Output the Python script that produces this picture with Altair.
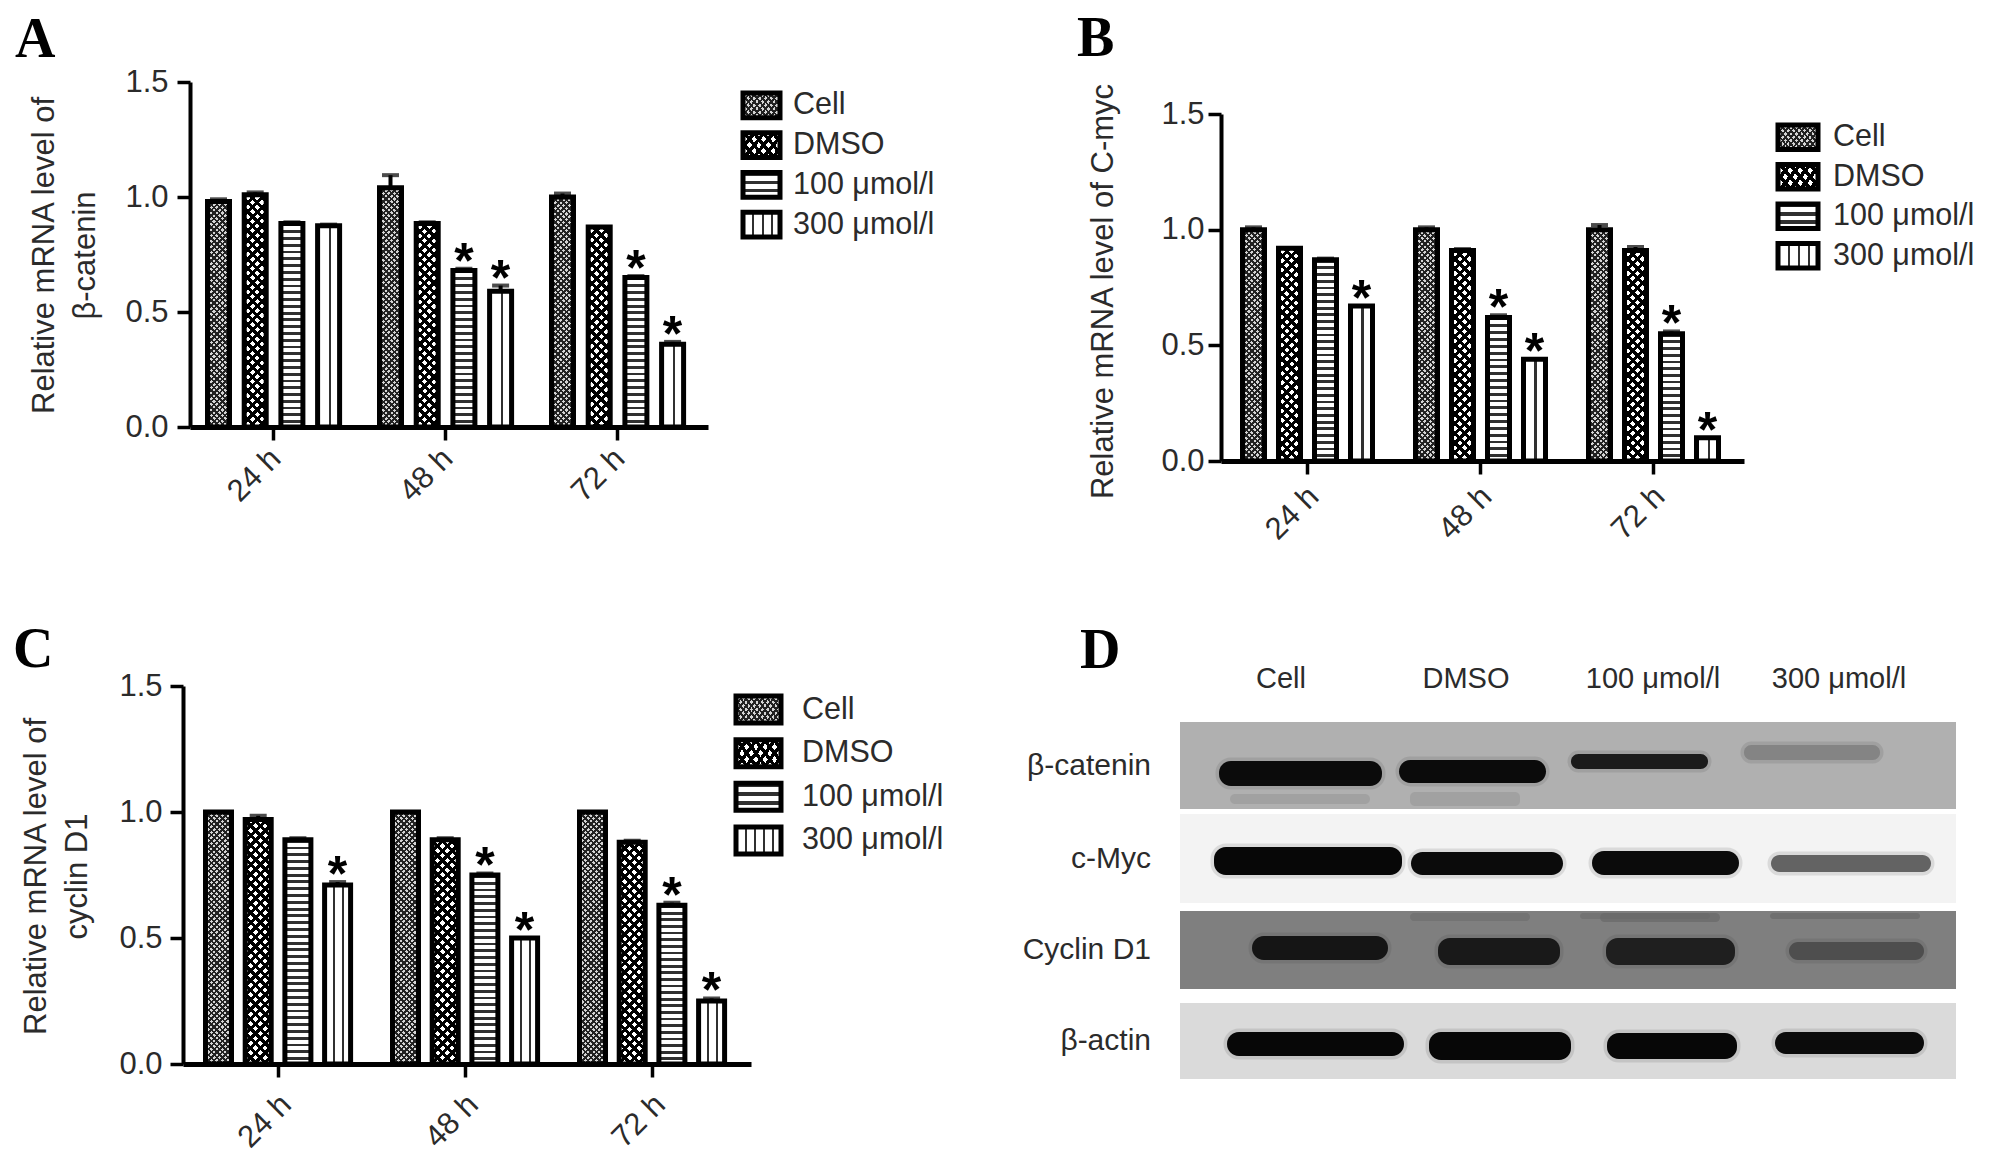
import altair as alt

W, H = 1973, 1144
OFF = 8
FONT = "Liberation Sans"
INK = "#2b2b2b"

series = ["Cell", "DMSO", "100 μmol/l", "300 μmol/l"]
times = ["24 h", "48 h", "72 h"]

a_values = [0.98, 1.01, 0.885, 0.875, 1.04, 0.885, 0.68, 0.59, 1.0, 0.87, 0.65, 0.36]
a_errors = [0.01, 0.01, 0.005, 0.005, 0.055, 0.005, 0.008, 0.025, 0.015, 0.0, 0.006, 0.01]
a_stars = [0, 0, 0, 0, 0, 0, 1, 1, 0, 0, 1, 1]

b_values = [1.0, 0.92, 0.87, 0.67, 1.0, 0.91, 0.62, 0.44, 1.0, 0.91, 0.55, 0.10]
b_errors = [0.01, 0.0, 0.005, 0.0, 0.01, 0.006, 0.01, 0.0, 0.02, 0.015, 0.01, 0.0]
b_stars = [0, 0, 0, 1, 0, 0, 1, 1, 0, 0, 1, 1]

c_values = [1.0, 0.97, 0.89, 0.71, 1.0, 0.89, 0.75, 0.50, 1.0, 0.88, 0.63, 0.25]
c_errors = [0.0, 0.015, 0.006, 0.012, 0.0, 0.006, 0.006, 0.0, 0.0, 0.006, 0.01, 0.01]
c_stars = [0, 0, 0, 1, 0, 0, 1, 1, 0, 0, 1, 1]

# western blot (panel D): gel coordinates in pixels from the gel's top-left corner
gel_rows = ["β-catenin", "c-Myc", "Cyclin D1", "β-actin"]
gel_lanes = ["Cell", "DMSO", "100 μmol/l", "300 μmol/l"]
gel_top = [0, 92, 189, 281]
gel_bottom = [87, 181, 267, 357]
gel_left = [0, 0, 0, 0]
gel_right = [776, 776, 776, 776]
gel_shade = [0.72, 0.96, 0.53, 0.87]
band_x0 = [39, 219, 391, 564, 34, 231, 412, 591, 72, 258, 426, 609, 47, 249, 427, 595]
band_x1 = [202, 366, 528, 700, 222, 383, 559, 751, 208, 380, 555, 744, 224, 391, 557, 744]
band_y0 = [39, 38, 32, 23, 125, 130, 129, 133, 214, 216, 216, 220, 310, 310, 311, 310]
band_y1 = [64, 61, 47, 38, 153, 153, 153, 150, 238, 243, 243, 238, 334, 338, 337, 332]
band_shade = [0.03, 0.03, 0.1, 0.55, 0.02, 0.03, 0.03, 0.42, 0.07, 0.09, 0.12, 0.33, 0.02, 0.02, 0.02, 0.03]
faint_x0 = [50, 230, 400, 230, 420, 590]
faint_x1 = [190, 340, 530, 350, 540, 740]
faint_y0 = [72, 70, 191, 191, 191, 191]
faint_y1 = [82, 84, 197, 199, 200, 197]
faint_shade = [0.64, 0.64, 0.46, 0.46, 0.44, 0.44]


def stops(n, duty, on, off):
    out = []
    for k in range(n):
        s = k / n
        m = (k + duty) / n
        e = (k + 1) / n
        out += [{"offset": s, "color": on}, {"offset": m, "color": on},
                {"offset": m, "color": off}, {"offset": e, "color": off}]
    return out


def stripes_h(h, period, duty, on, off):
    return {"gradient": "linear", "x1": 0, "y1": 0, "x2": 0, "y2": 1,
            "stops": stops(max(1, round(h / period)), duty, on, off)}


def stripes_v(w, period, duty, on, off):
    return {"gradient": "linear", "x1": 0, "y1": 0, "x2": 1, "y2": 0,
            "stops": stops(max(1, round(w / period)), duty, on, off)}


def diagonal(w, h, period, duty, on, off, flip):
    k = (w + h) / (w * w + h * h)
    n = max(1, round((w + h) / period))
    if flip:
        return {"gradient": "linear", "x1": 0, "y1": 1, "x2": w * k, "y2": 1 - h * k,
                "stops": stops(n, duty, on, off)}
    return {"gradient": "linear", "x1": 0, "y1": 0, "x2": w * k, "y2": h * k,
            "stops": stops(n, duty, on, off)}


def patterns(name, w, h):
    clear = "rgba(255,255,255,0)"
    if name == series[0]:
        return (diagonal(w, h, 5.6, 0.42, "#222222", "#d4d4d4", False),
                diagonal(w, h, 5.6, 0.42, "#222222", clear, True))
    if name == series[1]:
        return (diagonal(w, h, 9.5, 0.45, "#000000", "#ffffff", False),
                diagonal(w, h, 9.5, 0.45, "#000000", clear, True))
    if name == series[2]:
        return (stripes_h(h, 6.7, 0.42, "#303030", "#ffffff"),
                stripes_h(h, 6.7, 0.42, clear, clear))
    return (stripes_v(w, 9.0, 0.22, "#303030", "#ffffff"),
            stripes_v(w, 9.0, 0.22, clear, clear))


def panel(values, errors, stars, left, right, first, period, barw, step, y0, y1,
          title, title_x, title_y, line_h, lab_pad, lab_off, y_pad):
    sw = 5
    rw = barw - sw
    band = rw + 3 * period
    total = right - left - 2 * step - band
    start = first + sw / 2
    xs = alt.Scale(type="band", domain=times, range=[left - OFF, right - OFF],
                   paddingInner=1 - band / step, paddingOuter=total / (2 * step),
                   align=(start - left) / total)
    offs = alt.Scale(type="band", domain=series, range=[0, band],
                     paddingInner=1 - rw / period, paddingOuter=0)
    ys = alt.Scale(domain=[0, 1.5], range=[y0 - OFF, y1 - OFF], nice=False, zero=True)

    rows = []
    for i, v in enumerate(values):
        name = series[i % 4]
        f0, f1 = patterns(name, rw, v / 1.5 * (y0 - y1))
        rows.append({"time": times[i // 4], "series": name, "value": v,
                     "top": v + errors[i], "err": errors[i], "star": stars[i],
                     "f0": f0, "f1": f1})
    data = alt.Data(values=rows)

    x_axis = alt.Axis(orient="bottom", offset=-(H + OFF - y0), domainWidth=5, domainColor="black",
                      tickWidth=3.5, tickColor="black", tickSize=13, labelAngle=-45,
                      labelAlign="right", labelBaseline="top", labelPadding=lab_pad, labelOffset=lab_off,
                      labelFont=FONT, labelFontSize=31, labelColor=INK, title=None,
                      labelOverlap=False, labelBound=False, labelFlush=False, grid=False)
    y_axis = alt.Axis(orient="left", offset=-(left - OFF), domainWidth=4, domainColor="black",
                      tickWidth=3.5, tickColor="black", tickSize=13, values=[0, 0.5, 1.0, 1.5],
                      format=".1f", labelFont=FONT, labelFontSize=31, labelColor=INK, labelPadding=y_pad,
                      title=title, titleFont=FONT, titleFontSize=31, titleFontWeight="normal",
                      titleColor=INK, titleAngle=-90, titleAlign="center", titleBaseline="middle",
                      titleX=title_x, titleY=title_y, titleLineHeight=line_h, labelOverlap=False,
                      labelBound=False, labelFlush=False, grid=False)

    X = alt.X("time:N", scale=xs, axis=x_axis, sort=times)
    X2 = alt.X("time:N", scale=xs, axis=None, sort=times)
    XO = alt.XOffset("series:N", scale=offs, sort=series)
    Y = alt.Y("value:Q", scale=ys, axis=y_axis)
    Y2 = alt.Y("value:Q", scale=ys, axis=None)
    base = alt.Chart(data)
    err = base.transform_filter("datum.err > 0")
    star = base.transform_filter("datum.star == 1")
    return [
        base.mark_bar(strokeWidth=0).encode(x=X, xOffset=XO, y=Y, fill=alt.Fill("f0:N", scale=None, legend=None)),
        base.mark_bar(stroke="black", strokeWidth=sw).encode(x=X2, xOffset=XO, y=Y2, fill=alt.Fill("f1:N", scale=None, legend=None)),
        err.mark_rule(color="black", strokeWidth=4).encode(
            x=X2, xOffset=XO, y=Y2, y2=alt.Y2("top:Q")),
        err.mark_tick(color="black", thickness=4, size=17, orient="horizontal").encode(
            x=X2, xOffset=XO, y=alt.Y("top:Q", scale=ys, axis=None)),
        star.mark_text(text="*", font=FONT, fontWeight="bold", fontSize=50, color="black",
                       baseline="alphabetic", dy=9).encode(
            x=X2, xOffset=XO, y=alt.Y("top:Q", scale=ys, axis=None)),
    ]


def legend(x0, x1, y_top, y_bot, text_x, size):
    w, h = x1 - x0, 20
    rows = []
    for name in series:
        f0, f1 = patterns(name, w, h)
        rows.append({"series": name, "a": 0, "b": 1, "f0": f0, "f1": f1})
    data = alt.Data(values=rows)
    ys = alt.Scale(type="band", domain=series, range=[y_top - OFF, y_bot - OFF], paddingInner=0.38, paddingOuter=0)
    xs = alt.Scale(domain=[0, 1], range=[x0 - OFF, x1 - OFF], nice=False, zero=False)
    Y = alt.Y("series:N", scale=ys, axis=None, sort=series)
    X = alt.X("a:Q", scale=xs, axis=None)
    base = alt.Chart(data)
    return [
        base.mark_bar(strokeWidth=0).encode(y=Y, x=X, x2="b:Q", fill=alt.Fill("f0:N", scale=None, legend=None)),
        base.mark_bar(stroke="black", strokeWidth=5).encode(y=Y, x=X, x2="b:Q", fill=alt.Fill("f1:N", scale=None, legend=None)),
        base.mark_text(align="left", baseline="middle", font=FONT, fontSize=size, color=INK).encode(
            y=Y, x=alt.value(text_x - OFF), text="series:N"),
    ]


def letter(ch, x, y):
    return alt.Chart(alt.Data(values=[{"t": ch}])).mark_text(
        font="Liberation Serif", fontWeight="bold", fontSize=56, color="black",
        align="left", baseline="alphabetic").encode(
        x=alt.value(x - OFF), y=alt.value(y - OFF), text="t:N")


# ---- panel D ----
GX0, GX1, GY0, GY1 = 1180, 1956, 722, 1079
gx = alt.Scale(domain=[0, GX1 - GX0], range=[GX0 - OFF, GX1 - OFF], nice=False, zero=False)
gy = alt.Scale(domain=[0, GY1 - GY0], range=[GY0 - OFF, GY1 - OFF], nice=False, zero=False)
shade = alt.Scale(domain=[0, 1], range=["#000000", "#ffffff"])

gel_data = alt.Data(values=[
    {"x0": gel_left[i], "x1": gel_right[i], "y0": gel_top[i], "y1": gel_bottom[i], "s": gel_shade[i],
     "row": gel_rows[i], "mid": (gel_top[i] + gel_bottom[i]) / 2} for i in range(4)])
band_data = alt.Data(values=[
    {"x0": band_x0[i], "x1": band_x1[i], "y0": band_y0[i], "y1": band_y1[i], "s": band_shade[i]}
    for i in range(16)])
faint_data = alt.Data(values=[
    {"x0": faint_x0[i], "x1": faint_x1[i], "y0": faint_y0[i], "y1": faint_y1[i], "s": faint_shade[i]}
    for i in range(6)])
lane_centers = [101, 286, 473, 659]
lane_data = alt.Data(values=[{"lane": gel_lanes[i], "c": lane_centers[i], "y": -43} for i in range(4)])


def gel_rect(chart_data, **mark):
    return alt.Chart(chart_data).mark_rect(**mark).encode(
        x=alt.X("x0:Q", scale=gx, axis=None), x2="x1:Q",
        y=alt.Y("y0:Q", scale=gy, axis=None), y2="y1:Q",
        color=alt.Color("s:Q", scale=shade, legend=None))


panel_d = [
    gel_rect(gel_data),
    gel_rect(faint_data, cornerRadius=5, opacity=0.7),
    gel_rect(band_data, cornerRadius=12, opacity=0.25, stroke="#333333", strokeWidth=7, strokeOpacity=0.5),
    gel_rect(band_data, cornerRadius=12),
    alt.Chart(lane_data).mark_text(font=FONT, fontSize=29, color=INK, baseline="middle").encode(
        x=alt.X("c:Q", scale=gx, axis=None), y=alt.Y("y:Q", scale=gy, axis=None), text="lane:N"),
    alt.Chart(gel_data).mark_text(font=FONT, fontSize=30, color=INK, align="right", baseline="middle").encode(
        x=alt.value(1151 - OFF), y=alt.Y("mid:Q", scale=gy, axis=None), text="row:N"),
]

parts = [letter("A", 15, 57), letter("B", 1077, 56), letter("C", 13, 667), letter("D", 1080, 668)]
parts += panel(a_values, a_errors, a_stars, 190, 708, 205, 36.7, 27, 172, 427, 82,
               ["Relative mRNA level of", "β-catenin"], -146, 247, 41, 3, -8, 9)
parts += panel(b_values, b_errors, b_stars, 1221, 1744, 1240, 36.0, 27, 173, 461, 114,
               "Relative mRNA level of C-myc", -118, 283, 42, 7, -4, 4)
parts += panel(c_values, c_errors, c_stars, 183, 751, 203, 39.7, 31, 187, 1064, 686,
               ["Relative mRNA level of", "cyclin D1"], -147, 868, 41, 12, -2, 8)
parts += legend(743, 780, 93, 237, 793, 30.5)
parts += legend(1778, 1818, 125, 268, 1833, 30.5)
parts += legend(736, 781, 696, 854, 802, 30.5)
parts += panel_d

chart = alt.layer(*parts).resolve_scale(
    x="independent", y="independent", xOffset="independent", color="independent", fill="independent"
).resolve_axis(x="independent", y="independent").properties(
    width=W, height=H, padding=0, autosize="none", background="white"
).configure_view(stroke=None)

chart.save("out.html", embed_options={"renderer": "svg", "actions": False})
